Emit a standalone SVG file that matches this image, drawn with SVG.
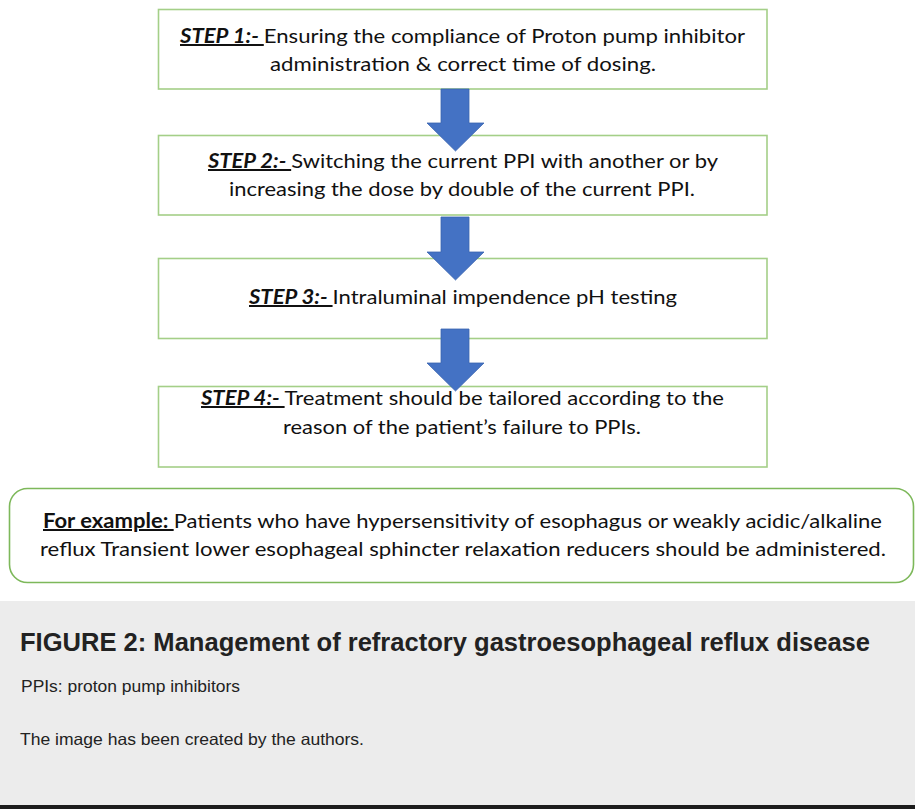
<svg xmlns="http://www.w3.org/2000/svg" width="915" height="809" viewBox="0 0 915 809">
<style>
.box{fill:#fff;stroke:#a4cf88;stroke-width:1.6}
.ex{fill:#fff;stroke:#7db85a;stroke-width:1.6}
.t{font-family:Lato,"Open Sans","Liberation Sans",sans-serif;font-size:20px;fill:#111}
.s{font-weight:bold;font-style:italic;text-decoration:underline}
.b{font-weight:bold;text-decoration:underline}
.arr{fill:#4472c4;stroke:#3a64b0;stroke-width:0.8}
.cap{font-family:"Liberation Sans",Arial,sans-serif;fill:#222}
</style>
<rect x="0" y="0" width="915" height="809" fill="#fff"/>
<g id="step1">
<rect class="box" x="158.5" y="9.5" width="608.5" height="79.5"/>
<text class="t" x="180" y="43" textLength="565" lengthAdjust="spacingAndGlyphs"><tspan class="s">STEP 1:-&#160;</tspan>Ensuring the compliance of Proton pump inhibitor</text>
<text class="t" x="270" y="71" textLength="386" lengthAdjust="spacingAndGlyphs">administration &amp; correct time of dosing.</text>
</g>
<g id="step2">
<rect class="box" x="158.5" y="135.5" width="608.5" height="79.5"/>
<text class="t" x="208" y="168" textLength="510" lengthAdjust="spacingAndGlyphs"><tspan class="s">STEP 2:-&#160;</tspan>Switching the current PPI with another or by</text>
<text class="t" x="229" y="196" textLength="466" lengthAdjust="spacingAndGlyphs">increasing the dose by double of the current PPI.</text>
</g>
<g id="step3">
<rect class="box" x="158.5" y="258.5" width="608.5" height="80"/>
<text class="t" x="249" y="304" textLength="428" lengthAdjust="spacingAndGlyphs"><tspan class="s">STEP 3:-&#160;</tspan>Intraluminal impendence pH testing</text>
</g>
<g id="step4">
<rect class="box" x="158.5" y="386.5" width="608.5" height="80.5"/>
<text class="t" x="201" y="405" textLength="523" lengthAdjust="spacingAndGlyphs"><tspan class="s">STEP 4:-&#160;</tspan>Treatment should be tailored according to the</text>
<text class="t" x="283" y="434" textLength="358" lengthAdjust="spacingAndGlyphs">reason of the patient’s failure to PPIs.</text>
</g>
<g id="example">
<rect class="ex" x="9.5" y="488.5" width="904" height="94" rx="18"/>
<text class="t" x="43" y="528" textLength="839" lengthAdjust="spacingAndGlyphs"><tspan class="b">For example:&#160;</tspan>Patients who have hypersensitivity of esophagus or weakly acidic/alkaline</text>
<text class="t" x="40" y="556" textLength="846" lengthAdjust="spacingAndGlyphs">reflux Transient lower esophageal sphincter relaxation reducers should be administered.</text>
</g>
<g id="connectors">
<path class="arr" d="M441,89 L469,89 L469,123 L484,123 L455.5,151 L427,123 L441,123 Z"/>
<path class="arr" d="M441,217 L469,217 L469,252 L484,252 L455.5,280 L427,252 L441,252 Z"/>
<path class="arr" d="M441,329 L469,329 L469,363 L484,363 L455.5,391 L427,363 L441,363 Z"/>
</g>
<g id="caption">
<rect x="0" y="601" width="915" height="204" fill="#ececec"/>
<rect x="0" y="805" width="915" height="4" fill="#1c1c1c"/>
<text class="cap" x="20" y="651" font-size="25" font-weight="bold" textLength="850" lengthAdjust="spacingAndGlyphs">FIGURE 2: Management of refractory gastroesophageal reflux disease</text>
<text class="cap" x="21" y="692" font-size="16.5" textLength="219" lengthAdjust="spacingAndGlyphs">PPIs: proton pump inhibitors</text>
<text class="cap" x="20" y="745" font-size="16.5" textLength="344" lengthAdjust="spacingAndGlyphs">The image has been created by the authors.</text>
</g>
</svg>
